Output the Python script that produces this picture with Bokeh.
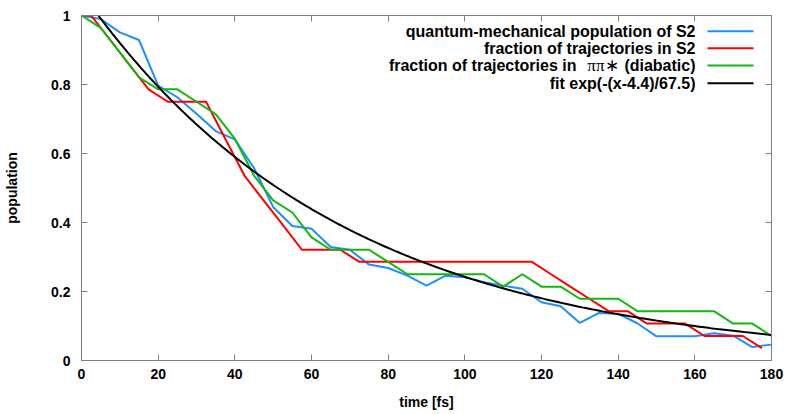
import numpy as np
from bokeh.plotting import figure
from bokeh.models import (Range1d, FixedTicker, LinearAxis, NumeralTickFormatter,
                          Label, BoxAnnotation, CustomJSTickFormatter)
from bokeh.embed import file_html
from bokeh.resources import INLINE

# ---------------- data ----------------
t_qm = [0, 5, 10, 15, 20, 25, 30, 35, 40, 45, 50, 55, 60, 65, 70, 75, 80, 85, 90,
        95, 100, 105, 110, 115, 120, 125, 130, 135, 140, 145, 150, 155, 160, 165,
        170, 175, 180]
pop_qm = [1.0, 0.99, 0.951, 0.929, 0.797, 0.763, 0.715, 0.665, 0.641, 0.558, 0.445,
          0.39, 0.382, 0.329, 0.321, 0.278, 0.268, 0.246, 0.217, 0.246, 0.241, 0.227,
          0.217, 0.208, 0.169, 0.157, 0.109, 0.138, 0.135, 0.108, 0.07, 0.07, 0.07,
          0.079, 0.072, 0.039, 0.046]

t_traj = [0, 2.5, 7.5, 12.5, 17.5, 22.5, 27.5, 32.5, 37.5, 42.5, 47.5, 52.5, 57.5,
          62.5, 67.5, 72.5, 77.5, 82.5, 87.5, 92.5, 97.5, 102.5, 107.5, 112.5, 117.5,
          122.5, 127.5, 132.5, 137.5, 142.5, 147.5, 152.5, 157.5, 162.5, 167.5,
          172.5, 177.5]
frac_s2 = [1.0, 1.0, 0.929, 0.857, 0.786, 0.75, 0.75, 0.75, 0.643, 0.536, 0.464,
           0.393, 0.321, 0.321, 0.321, 0.286, 0.286, 0.286, 0.286, 0.286, 0.286,
           0.286, 0.286, 0.286, 0.286, 0.25, 0.214, 0.179, 0.143, 0.143, 0.107,
           0.107, 0.107, 0.071, 0.071, 0.071, 0.036]

t_diab = [0, 5, 10, 15, 20, 25, 30, 35, 40, 45, 50, 55, 60, 65, 70, 75, 80, 85, 90,
          95, 100, 105, 110, 115, 120, 125, 130, 135, 140, 145, 150, 155, 160, 165,
          170, 175, 180]
frac_pipi = [1.0, 0.964, 0.893, 0.821, 0.786, 0.786, 0.75, 0.714, 0.643, 0.536,
             0.464, 0.429, 0.357, 0.321, 0.321, 0.321, 0.286, 0.25, 0.25, 0.25, 0.25,
             0.25, 0.214, 0.25, 0.214, 0.214, 0.179, 0.179, 0.179, 0.143, 0.143,
             0.143, 0.143, 0.143, 0.107, 0.107, 0.071]

fit_t0 = 4.4
fit_tau = 67.5
fit_tmax = 180.0

x_ticks = [0, 20, 40, 60, 80, 100, 120, 140, 160, 180]
y_ticks = [0, 0.2, 0.4, 0.6, 0.8, 1.0]

labels = ["quantum-mechanical population of S2",
          "fraction of trajectories in S2",
          "fraction of trajectories in",
          "fit exp(-(x-4.4)/67.5)"]
colors = ["#1e8fff", "#ff0000", "#10b810", "#000000"]

# fit curve from the legend's formula
t_fit = np.linspace(fit_t0, fit_tmax, 300)
pop_fit = np.exp(-(t_fit - fit_t0) / fit_tau)

# ---------------- figure ----------------
FONT = "Liberation Sans"
GRAY = "#808080"

p = figure(width=787, height=414, output_backend="svg", toolbar_location=None,
           x_range=Range1d(0, 180), y_range=Range1d(0, 1),
           min_border_left=81, min_border_right=16, min_border_top=15,
           min_border_bottom=54)
p.background_fill_color = "white"
p.border_fill_color = "white"
p.outline_line_color = GRAY
p.xgrid.visible = False
p.ygrid.visible = False

for ax, ticks in ((p.xaxis[0], x_ticks), (p.yaxis[0], y_ticks)):
    ax.ticker = FixedTicker(ticks=ticks)
    ax.minor_tick_line_color = None
    ax.major_tick_in = 6
    ax.major_tick_out = 0
    ax.major_tick_line_color = GRAY
    ax.axis_line_color = GRAY
    ax.major_label_text_font = FONT
    ax.major_label_text_font_style = "bold"
    ax.major_label_text_font_size = "14px"
    ax.major_label_text_color = "black"
    ax.axis_label_text_font = FONT
    ax.axis_label_text_font_style = "bold"
    ax.axis_label_text_font_size = "14px"
    ax.axis_label_text_color = "black"
    ax.formatter = NumeralTickFormatter(format="0.[0]")

p.xaxis.axis_label = "time [fs]"
p.yaxis.axis_label = "population"
p.xaxis.major_label_standoff = 8
p.xaxis.axis_label_standoff = 12
p.yaxis.major_label_standoff = 11
p.yaxis.axis_label_standoff = 28

# mirrored tick axes (top & right), no labels
for side, ticks in (("above", x_ticks), ("right", y_ticks)):
    ax = LinearAxis(ticker=FixedTicker(ticks=ticks),
                    formatter=CustomJSTickFormatter(code="return ''"))
    ax.minor_tick_line_color = None
    ax.major_tick_in = 6
    ax.major_tick_out = 0
    ax.major_tick_line_color = GRAY
    ax.axis_line_color = GRAY
    ax.major_label_standoff = 0
    p.add_layout(ax, side)

# ---------------- series ----------------
p.line(t_qm, pop_qm, line_color=colors[0], line_width=2)
p.line(t_traj, frac_s2, line_color=colors[1], line_width=2)
p.line(t_diab, frac_pipi, line_color=colors[2], line_width=2)
p.line(t_fit, pop_fit, line_color=colors[3], line_width=2)

# ---------------- legend (text left of sample, right aligned) ----------------
row_y = [329.3, 312.3, 295.0, 277.3]   # screen px above frame bottom
txt_right = 614
samp_l, samp_r = 626, 672

def add_text(txt, x, y, font=FONT, style="bold", size="16px"):
    p.add_layout(Label(x=x, y=y, x_units="screen", y_units="screen", text=txt,
                       text_align="right", text_baseline="middle",
                       text_font=font, text_font_style=style,
                       text_font_size=size, text_color="black"))

add_text(labels[0], txt_right, row_y[0])
add_text(labels[1], txt_right, row_y[1])
add_text("(diabatic)", txt_right, row_y[2])
add_text("\u03c0\u03c0\u2217", txt_right - 77, row_y[2], font="Liberation Serif",
         style="normal", size="17px")
add_text(labels[2], txt_right - 119, row_y[2])
add_text(labels[3], txt_right, row_y[3])

for c, y in zip(colors, row_y):
    p.add_layout(BoxAnnotation(left=samp_l, right=samp_r, bottom=y - 1, top=y + 1,
                               left_units="screen", right_units="screen",
                               bottom_units="screen", top_units="screen",
                               fill_color=c, fill_alpha=1.0, line_color=None))

open("out.html", "w").write(file_html(p, INLINE))
